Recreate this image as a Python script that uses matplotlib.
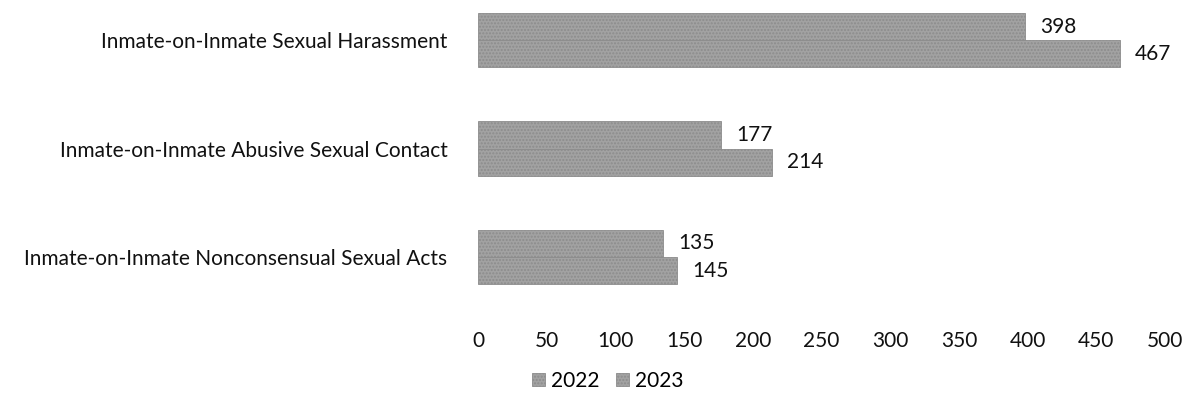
import numpy as np
import matplotlib.pyplot as plt

plt.rcParams['font.family'] = ['Lato', 'DejaVu Sans']
plt.rcParams['hatch.color'] = '#7a7a7a'

categories = ['Inmate-on-Inmate Sexual Harassment',
              'Inmate-on-Inmate Abusive Sexual Contact',
              'Inmate-on-Inmate Nonconsensual Sexual Acts']
years = ['2022', '2023']
vals_2022 = [398, 177, 135]
vals_2023 = [467, 214, 145]

fs = 15

fig = plt.figure(figsize=(12.01, 4.05), dpi=100)
ax = fig.add_axes([0.398, 0.285, 0.5720, 0.6963])

y = np.arange(len(categories))
h = 0.25
bar_col = '#a2a2a2'
b1 = ax.barh(y - h/2, vals_2022, height=h, color=bar_col, edgecolor='#8c8c8c',
             linewidth=0.6, hatch='.....', label=years[0])
b2 = ax.barh(y + h/2, vals_2023, height=h, color=bar_col, edgecolor='#8c8c8c',
             linewidth=0.6, hatch='.....', label=years[1])

for bars in (b1, b2):
    ax.bar_label(bars, padding=11, fontsize=fs, color='#111111')

ax.set_xlim(0, 500)
ax.set_ylim(2.3, -0.3)
ax.set_xticks(np.arange(0, 501, 50))
ax.set_yticks(y)
ax.set_yticklabels(categories)
ax.tick_params(axis='both', length=0, labelsize=fs, colors='#111111')
ax.tick_params(axis='x', pad=30)
ax.tick_params(axis='y', pad=22)
for s in ax.spines.values():
    s.set_visible(False)

fig.legend(handles=[b1, b2], loc='center', bbox_to_anchor=(0.506, 0.06), ncol=2,
           frameon=False, fontsize=fs, handlelength=0.6, handleheight=0.6,
           handletextpad=0.3, columnspacing=0.8)

fig.savefig('out.png', dpi=100)
